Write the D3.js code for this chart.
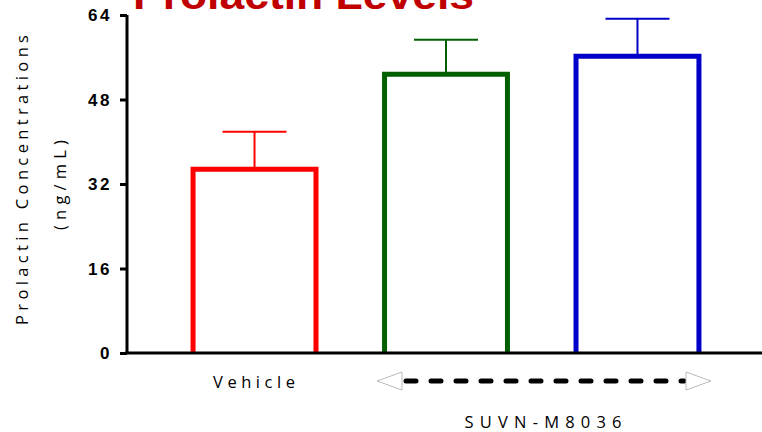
<!DOCTYPE html>
<html><head><meta charset="utf-8">
<script src="https://cdn.jsdelivr.net/npm/d3@7"></script>
<style>body{margin:0;background:#fff}svg{display:block}</style>
</head><body>
<svg id="c" width="762" height="432"></svg>
<script>
const categories = ["Vehicle", "SUVN-M8036 a", "SUVN-M8036 b"];
const means = [34.8, 52.8, 56.2];
const errors = [7.1, 6.5, 7.1];
const colors = ["#ff0000", "#006000", "#0000c8"];
const yTicks = [0, 16, 32, 48, 64];

const svg = d3.select("#c");
const y = d3.scaleLinear().domain([0, 64]).range([353, 15]);
const x = d3.scaleBand().domain(categories).range([127, 765]).paddingInner(0.358).paddingOuter(0.345);

// title
svg.append("text").attr("x", 133).attr("y", 9).attr("fill", "#c00000")
  .attr("font-family", "Liberation Sans, Arial, sans-serif").attr("font-weight", "bold")
  .attr("font-size", 40).attr("textLength", 341).attr("lengthAdjust", "spacingAndGlyphs")
  .text("Prolactin Levels");

// bars
const bw = x.bandwidth();
categories.forEach((c, i) => {
  const x0 = x(c), xc = x0 + bw / 2;
  svg.append("line").attr("x1", xc).attr("x2", xc).attr("y1", y(means[i])).attr("y2", y(means[i] + errors[i]))
    .attr("stroke", colors[i]).attr("stroke-width", 2);
  svg.append("line").attr("x1", xc - 32).attr("x2", xc + 32).attr("y1", y(means[i] + errors[i])).attr("y2", y(means[i] + errors[i]))
    .attr("stroke", colors[i]).attr("stroke-width", 2);
  svg.append("path").attr("d", `M${x0},${y(0)}V${y(means[i])}H${x0 + bw}V${y(0)}`)
    .attr("fill", "#fff").attr("stroke", colors[i]).attr("stroke-width", 5);
});

// axes
const yAxis = d3.axisLeft(y).tickValues(yTicks).tickSize(7).tickPadding(8);
const gy = svg.append("g").attr("transform", "translate(127,0)").call(yAxis);
gy.select(".domain").attr("stroke", "#000").attr("stroke-width", 3).attr("d", `M0,${y(64)}V${y(0)}`);
gy.selectAll(".tick line").attr("stroke", "#000").attr("stroke-width", 3);
gy.selectAll(".tick text").attr("font-family", "Liberation Sans, Arial, sans-serif").attr("font-weight", "bold")
  .attr("font-size", 17).attr("letter-spacing", "2.5px").attr("fill", "#000").attr("dy", "0.35em");

svg.append("line").attr("x1", 125).attr("x2", 762).attr("y1", y(0)).attr("y2", y(0))
  .attr("stroke", "#000").attr("stroke-width", 3);

// y label
const lbl = svg.append("g").attr("font-family", "Open Sans, Liberation Sans, sans-serif").attr("font-size", 16.5)
  .attr("fill", "#000").attr("text-anchor", "middle");
lbl.append("text").attr("transform", "translate(28,180) rotate(-90)").attr("textLength", 290).attr("lengthAdjust", "spacing").text("Prolactin Concentrations");
lbl.append("text").attr("transform", "translate(66,185) rotate(-90)").attr("textLength", 90).attr("lengthAdjust", "spacing").text("(ng/mL)");

// x labels
const xl = svg.append("g").attr("font-family", "Open Sans, Liberation Sans, sans-serif").attr("font-size", 16.5)
  .attr("fill", "#000").attr("text-anchor", "middle");
xl.append("text").attr("x", 254).attr("y", 388).attr("textLength", 82).attr("lengthAdjust", "spacing").text("Vehicle");
xl.append("text").attr("x", 543).attr("y", 428).attr("textLength", 157).attr("lengthAdjust", "spacing").text("SUVN-M8036");

// arrow
svg.append("line").attr("x1", 406).attr("x2", 684).attr("y1", 381).attr("y2", 381)
  .attr("stroke", "#000").attr("stroke-width", 5).attr("stroke-linecap", "round")
  .attr("stroke-dasharray", "10,15");
svg.append("path").attr("d", "M377,381L402,372V390Z").attr("fill", "#fff").attr("stroke", "#bbb").attr("stroke-width", 1);
svg.append("path").attr("d", "M711,381L686,372V390Z").attr("fill", "#fff").attr("stroke", "#bbb").attr("stroke-width", 1);
</script>
</body></html>
